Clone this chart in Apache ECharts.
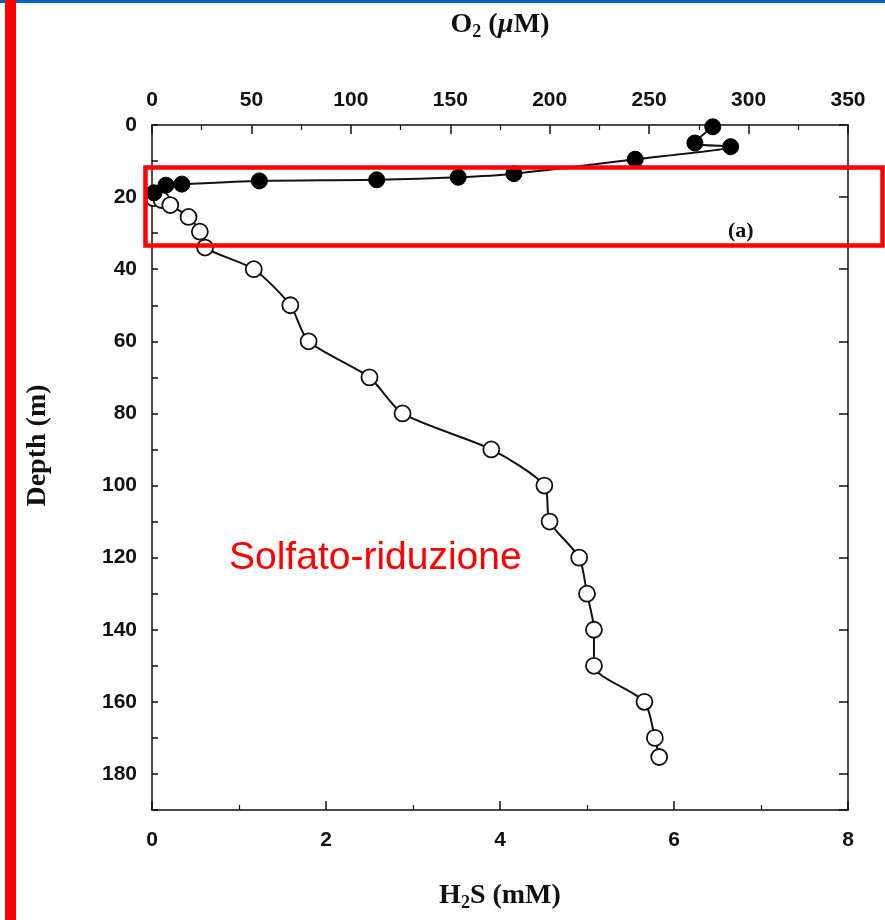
<!DOCTYPE html>
<html>
<head>
<meta charset="utf-8">
<script src="https://cdn.jsdelivr.net/npm/echarts@6/dist/echarts.min.js"></script>
<style>
  html, body { margin: 0; padding: 0; background: #fff; }
  #chart { width: 885px; height: 920px; }
</style>
</head>
<body>
<div id="chart"></div>
<script>
// O2 profile (filled circles): [O2 µM, depth m]
const o2Profile = [
  [282, 0.5], [273, 5], [291, 6], [243, 9.5], [182, 13.5], [154, 14.5],
  [113, 15.2], [54, 15.5], [15, 16.4], [7, 16.7], [1, 18.8]
]

// H2S profile (open circles): [H2S mM, depth m]
const h2sProfile = [
  [0.02, 20.3], [0.11, 20.8], [0.21, 22.2], [0.42, 25.5], [0.55, 29.6],
  [0.61, 34], [1.17, 40], [1.59, 50], [1.8, 60], [2.5, 70], [2.88, 80],
  [3.9, 90], [4.51, 100], [4.57, 110], [4.91, 120], [5.0, 130], [5.08, 140],
  [5.08, 150], [5.66, 160], [5.78, 170], [5.83, 175.3]
]

// axis ranges
const h2sRange = [0, 8]
const o2Range = [0, 350]
const depthRange = [0, 190]

const chart = echarts.init(document.getElementById('chart'))

const tickFont = {
  color: '#111',
  fontFamily: 'Liberation Sans, Arial, sans-serif',
  fontWeight: 'bold',
  fontSize: 21,
}
const titleFont = {
  fontFamily: 'Liberation Serif, Times New Roman, serif',
  fontWeight: 'bold',
  fontSize: 28,
  color: '#111',
}
const axisLine = { show: true, onZero: false, lineStyle: { color: '#111', width: 1.5 } }
const majorTick = (len) => ({ show: true, inside: true, length: len, lineStyle: { color: '#111', width: 1.5 } })
const minorTick = { show: true, splitNumber: 2, length: 5, lineStyle: { color: '#111', width: 1.2 } }

const option = {
  animation: false,
  backgroundColor: '#fff',
  grid: { left: 152, right: 37, top: 125, bottom: 110, containLabel: false },
  xAxis: [
    {
      type: 'value',
      position: 'bottom',
      min: h2sRange[0],
      max: h2sRange[1],
      interval: 2,
      axisLine,
      axisTick: majorTick(9),
      minorTick,
      splitLine: { show: false },
      axisLabel: { ...tickFont, margin: 20 },
      name: '{t|H}{s|2}{t|S (mM)}',
      nameLocation: 'middle',
      nameGap: 70,
      nameTextStyle: {
        rich: {
          t: titleFont,
          s: { ...titleFont, fontSize: 18, padding: [14, 0, 0, 0] },
        },
      },
    },
    {
      type: 'value',
      position: 'top',
      min: o2Range[0],
      max: o2Range[1],
      interval: 50,
      axisLine,
      axisTick: majorTick(9),
      minorTick,
      splitLine: { show: false },
      axisLabel: { ...tickFont, margin: 14 },
      name: '{t|O}{s|2}{t| (}{i|µ}{t|M)}',
      nameLocation: 'middle',
      nameGap: 84,
      nameTextStyle: {
        rich: {
          t: titleFont,
          s: { ...titleFont, fontSize: 18, padding: [14, 0, 0, 0] },
          i: { ...titleFont, fontStyle: 'italic' },
        },
      },
    },
  ],
  yAxis: [
    {
      type: 'value',
      inverse: true,
      position: 'left',
      min: depthRange[0],
      max: depthRange[1],
      interval: 10,
      axisLine,
      axisTick: majorTick(6),
      splitLine: { show: false },
      axisLabel: {
        ...tickFont,
        margin: 15,
        formatter: (v) => (v % 20 === 0 ? String(v) : ''),
      },
      name: 'Depth (m)',
      nameLocation: 'middle',
      nameRotate: 90,
      nameGap: 100,
      nameTextStyle: { ...titleFont, padding: [0, 0, 0, 44] },
    },
    {
      type: 'value',
      inverse: true,
      position: 'right',
      min: depthRange[0],
      max: depthRange[1],
      interval: 20,
      axisLine,
      axisTick: majorTick(9),
      splitLine: { show: false },
      axisLabel: { show: false },
    },
  ],
  series: [
    {
      name: 'H2S',
      type: 'line',
      xAxisIndex: 0,
      yAxisIndex: 0,
      data: h2sProfile,
      smooth: 0.25,
      clip: false,
      symbol: 'circle',
      symbolSize: 16,
      itemStyle: { color: '#fff', borderColor: '#111', borderWidth: 1.8 },
      lineStyle: { color: '#111', width: 2 },
      z: 3,
    },
    {
      name: 'O2',
      type: 'line',
      xAxisIndex: 1,
      yAxisIndex: 0,
      data: o2Profile,
      smooth: 0.25,
      clip: false,
      symbol: 'circle',
      symbolSize: 16,
      itemStyle: { color: '#000', borderColor: '#000', borderWidth: 1 },
      lineStyle: { color: '#111', width: 2 },
      z: 4,
    },
  ],
  graphic: [
    // slide decorations
    { type: 'rect', left: 0, top: 0, shape: { width: 885, height: 3 }, style: { fill: '#0563c1' }, z: 10 },
    { type: 'rect', left: 5, top: 0, shape: { width: 11, height: 920 }, style: { fill: '#ff0000' }, z: 11 },
    {
      type: 'rect',
      left: 143,
      top: 165,
      shape: { width: 737, height: 78 },
      style: { fill: 'none', stroke: '#ff0000', lineWidth: 4.5 },
      z: 20,
    },
    {
      type: 'text',
      left: 229,
      top: 539,
      style: {
        text: 'Solfato-riduzione',
        fill: '#ff0000',
        font: '39px "Liberation Sans", Arial, sans-serif',
      },
      z: 20,
    },
    {
      type: 'text',
      left: 728,
      top: 220,
      style: {
        text: '(a)',
        fill: '#111',
        font: 'bold 22px "Liberation Serif", "Times New Roman", serif',
      },
      z: 15,
    },
  ],
}

chart.setOption(option)
</script>
</body>
</html>
